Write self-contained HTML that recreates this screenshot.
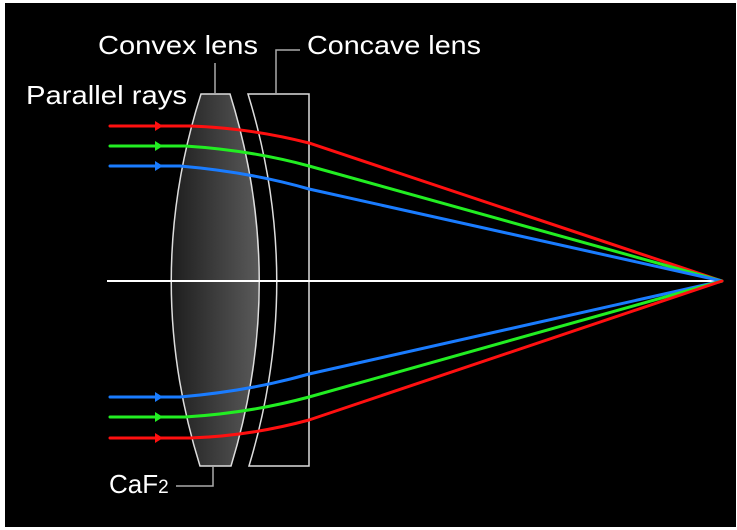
<!DOCTYPE html>
<html><head><style>
html,body{margin:0;padding:0;background:#fff;}
svg{display:block;}
text{font-family:"Liberation Sans",sans-serif;fill:#fff;font-size:26px;}
</style></head><body>
<svg width="737" height="530" viewBox="0 0 737 530" xmlns="http://www.w3.org/2000/svg">
<defs>
<linearGradient id="g" x1="0" x2="1" y1="0" y2="0">
<stop offset="0" stop-color="#1e1e1e"/><stop offset="1" stop-color="#5a5a5a"/>
</linearGradient>
</defs>
<rect x="5" y="3" width="731" height="524" fill="#000"/>
<path d="M201,94 L230,94 Q288,280 231,466 L200,466 Q142,280 201,94 Z" fill="url(#g)" stroke="#ddd" stroke-width="1.5"/>
<path d="M248,94 L309,94 L309,466 L249,466 Q305,280 248,94 Z" fill="none" stroke="#ddd" stroke-width="1.5"/>
<line x1="107" y1="281" x2="722" y2="281" stroke="#fff" stroke-width="2"/>
<g fill="none" stroke-width="3" stroke-linecap="round">
<path d="M110,126 L190,126 Q250,128 309,143 L722,281" stroke="#ff1010"/>
<path d="M110,146 L185,146 Q250,150 309,166 L722,281" stroke="#22ee22"/>
<path d="M110,166 L180,166 Q250,172 309,189 L722,281" stroke="#1a7cff"/>
<path d="M110,397 L180,397 Q250,391 309,374 L722,281" stroke="#1a7cff"/>
<path d="M110,417 L185,417 Q250,413 309,397 L722,281" stroke="#22ee22"/>
<path d="M110,438 L190,438 Q250,436 309,420 L722,281" stroke="#ff1010"/>
</g>
<g>
<path d="M155,121 L163,126 L155,131Z" fill="#ff1010"/>
<path d="M155,141 L163,146 L155,151Z" fill="#22ee22"/>
<path d="M155,161 L163,166 L155,171Z" fill="#1a7cff"/>
<path d="M155,392 L163,397 L155,402Z" fill="#1a7cff"/>
<path d="M155,412 L163,417 L155,422Z" fill="#22ee22"/>
<path d="M155,433 L163,438 L155,443Z" fill="#ff1010"/>
</g>
<g stroke="#aaa" stroke-width="1.5" fill="none">
<path d="M215,63 L215,94"/>
<path d="M300,50 L276,50 L276,94"/>
<path d="M176,486 L213,486 L213,466"/>
</g>
<text x="98" y="54" textLength="160" lengthAdjust="spacingAndGlyphs">Convex lens</text>
<text x="307" y="54" textLength="174" lengthAdjust="spacingAndGlyphs">Concave lens</text>
<text x="26" y="104" textLength="161" lengthAdjust="spacingAndGlyphs">Parallel rays</text>
<text x="109" y="493" font-size="28">CaF<tspan font-size="19">2</tspan></text>
</svg>
</body></html>
